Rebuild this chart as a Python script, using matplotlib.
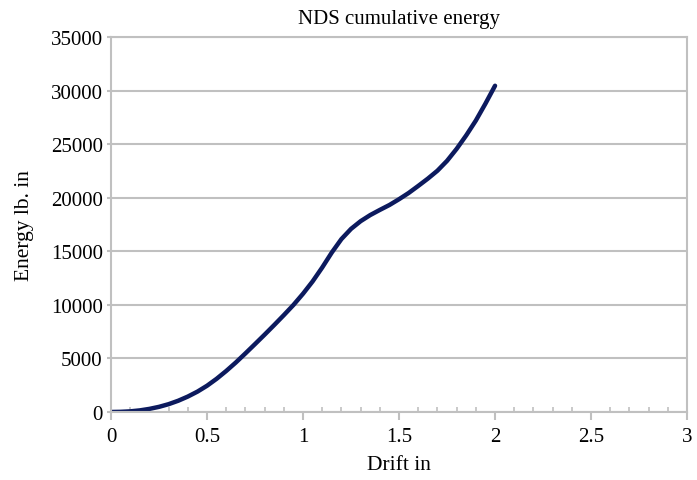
#!/usr/bin/env python3

import matplotlib
matplotlib.use("Agg")
import matplotlib.pyplot as plt
from matplotlib.ticker import MultipleLocator, FormatStrFormatter

plt.rcParams['font.family'] = ['Liberation Serif', 'DejaVu Serif']

# values
drift = [0.0, 0.05, 0.1, 0.15, 0.2, 0.25, 0.3, 0.35, 0.4, 0.45, 0.5,
         0.55, 0.6, 0.65, 0.7, 0.75, 0.8, 0.85, 0.9, 0.95, 1.0,
         1.05, 1.1, 1.15, 1.2, 1.25, 1.3, 1.35, 1.4, 1.45, 1.5,
         1.55, 1.6, 1.65, 1.7, 1.75, 1.8, 1.85, 1.9, 1.95, 2.0]
energy = [0, 15, 60, 150, 290, 480, 730, 1050, 1440, 1900, 2450,
          3100, 3830, 4620, 5470, 6340, 7220, 8120, 9040, 9990, 11040,
          12190, 13490, 14890, 16140, 17090, 17810, 18380, 18860, 19320, 19860,
          20440, 21100, 21780, 22520, 23440, 24560, 25820, 27200, 28780, 30450]

grey = '#c0c0c0'

fig = plt.figure(figsize=(6.97, 4.81), dpi=100)
ax = fig.add_axes([0.1593, 0.1414, 0.8264, 0.7796])

ax.plot(drift, energy, color='#0c1a5e', linewidth=3.2,
        solid_capstyle='round', solid_joinstyle='round')

ax.set_xlim(0, 3)
ax.set_ylim(0, 35000)
ax.xaxis.set_major_locator(MultipleLocator(0.5))
ax.xaxis.set_minor_locator(MultipleLocator(0.1))
ax.xaxis.set_major_formatter(FormatStrFormatter('%g'))
ax.yaxis.set_major_locator(MultipleLocator(5000))

ax.grid(axis='y', color=grey, linewidth=1.5)
ax.set_axisbelow(True)
for s in ax.spines.values():
  s.set_color(grey)
  s.set_linewidth(1.5)

ax.tick_params(axis='x', which='major', direction='out', length=6, width=1.5,
               color=grey, labelsize=15, pad=5)
ax.tick_params(axis='x', which='minor', direction='in', length=3.5, width=1.2,
               color=grey)
ax.tick_params(axis='y', direction='out', length=3, width=1.5, color=grey,
               labelsize=15, pad=3)

ax.set_title('NDS cumulative energy', fontsize=15, pad=10)
ax.set_xlabel('Drift in', fontsize=15.5, labelpad=6)
ax.set_ylabel('Energy lb. in', fontsize=15.5, labelpad=12)

fig.savefig('out.png', dpi=100)
